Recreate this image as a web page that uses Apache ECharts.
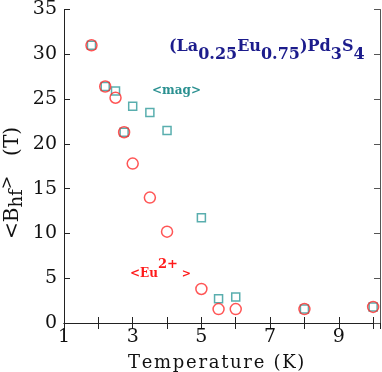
<!DOCTYPE html>
<html><head><meta charset="utf-8">
<script src="https://cdn.jsdelivr.net/npm/echarts@6/dist/echarts.min.js"></script>
<style>html,body{margin:0;padding:0;background:#fff}#c{width:382px;height:372px}</style>
</head><body><div id="c"></div>
<script>
const euTemp = [1.8, 2.2, 2.5, 2.75, 3.0, 3.5, 4.0, 5.0, 5.5, 6.0, 8.0, 10.0];
const euField = [31.0, 26.4, 25.15, 21.3, 17.8, 14.0, 10.2, 3.8, 1.55, 1.55, 1.55, 1.8];
const magTemp = [1.8, 2.2, 2.5, 2.75, 3.0, 3.5, 4.0, 5.0, 5.5, 6.0, 8.0, 10.0];
const magField = [31.0, 26.4, 25.9, 21.3, 24.2, 23.5, 21.5, 11.75, 2.7, 2.9, 1.55, 1.8];
const xTickLabels = ['1', '3', '5', '7', '9'];
const yTicks = [0, 5, 10, 15, 20, 25, 30, 35];
const xTitle = 'Temperature (K)';

const serif = 'DejaVu Serif';
const chart = echarts.init(document.getElementById('c'), null, {renderer: 'canvas'});
const axisLineStyle = {color: '#222', width: 1};
const grid = {left: 64, top: 8, right: 2, bottom: 49};
// letter-spaced title: one rich token per character
const spaced = s => s.split('').map(ch => '{c|' + ch + '}').join('');
chart.setOption({
  animation: false,
  grid: grid,
  xAxis: [
    {type: 'value', min: 1, max: 10.2, interval: 1, position: 'bottom',
     axisLine: {show: true, lineStyle: axisLineStyle},
     axisTick: {show: true, inside: true, length: 6, lineStyle: axisLineStyle},
     splitLine: {show: false},
     axisLabel: {fontFamily: serif, fontSize: 19, color: '#111', margin: 5,
       formatter: v => xTickLabels.indexOf(String(v)) >= 0 ? String(v) : '', showMaxLabel: false}},
    {type: 'value', min: 1, max: 10.2, interval: 1, position: 'top',
     axisLine: {show: true, lineStyle: axisLineStyle},
     axisTick: {show: true, inside: true, length: 6, lineStyle: axisLineStyle},
     splitLine: {show: false}, axisLabel: {show: false}}
  ],
  yAxis: [
    {type: 'value', min: 0, max: 35, interval: 5, position: 'left',
     axisLine: {show: true, lineStyle: axisLineStyle},
     axisTick: {show: true, inside: true, length: 6, lineStyle: axisLineStyle},
     splitLine: {show: false},
     axisLabel: {fontFamily: serif, fontSize: 19, color: '#111', margin: 7,
       formatter: v => yTicks.indexOf(v) >= 0 ? String(v) : ''}},
    {type: 'value', min: 0, max: 35, interval: 5, position: 'right',
     axisLine: {show: true, lineStyle: {color: '#555', width: 1}},
     axisTick: {show: true, inside: true, length: 6, lineStyle: {color: '#555', width: 1}},
     splitLine: {show: false}, axisLabel: {show: false}}
  ],
  series: [
    {type: 'scatter', name: 'mag', symbol: 'rect', symbolSize: 8,
     data: magTemp.map((t, i) => [t, magField[i]]),
     itemStyle: {color: 'rgba(0,0,0,0)', borderColor: '#2f9a9a', borderWidth: 1.5}},
    {type: 'scatter', name: 'Eu', symbol: 'circle', symbolSize: 11,
     data: euTemp.map((t, i) => [t, euField[i]]),
     itemStyle: {color: 'rgba(0,0,0,0)', borderColor: '#ff2a2a', borderWidth: 1.5}}
  ],
  graphic: [
    {type: 'text', x: 169, y: 31, z: 10,
     style: {
       text: '{m|(La}{s|0.25}{m|Eu}{s|0.75}{m|)Pd}{s|3}{m|S}{s|4}',
       fill: '#1c1c8c',
       rich: {
         m: {fontFamily: serif, fontSize: 16, fontWeight: 'bold', fill: '#1c1c8c', lineHeight: 32, verticalAlign: 'middle'},
         s: {fontFamily: serif, fontSize: 16, fontWeight: 'bold', fill: '#1c1c8c', lineHeight: 16, verticalAlign: 'bottom'}
       }
     }},
    {type: 'text', x: 152, y: 85, z: 10,
     style: {text: '<mag>', fill: '#2a9090', font: 'bold 12px ' + serif}},
    {type: 'text', x: 130, y: 258, z: 10,
     style: {
       text: '{m|<Eu}{p|2+}{g|>}',
       rich: {
         m: {fontFamily: serif, fontSize: 12, fontWeight: 'bold', fill: '#ff1a1a', lineHeight: 22, verticalAlign: 'bottom'},
         p: {fontFamily: serif, fontSize: 13, fontWeight: 'bold', fill: '#ff1a1a', lineHeight: 14, verticalAlign: 'top'},
         g: {fontFamily: serif, fontSize: 11, fontWeight: 'bold', fill: '#ff1a1a', lineHeight: 20, verticalAlign: 'bottom', padding: [0, 0, 0, 4]}
       }
     }},
    {type: 'text', x: 128, y: 354, z: 10,
     style: {text: spaced(xTitle),
       rich: {c: {fontFamily: serif, fontSize: 18, fill: '#111', padding: [0, 1.7, 0, 0]}}}},
    {type: 'text', x: 0, y: 239, rotation: Math.PI / 2, z: 10,
     style: {
       text: '{m|<B}{s|hf}{p|>}{t|(T)}',
       rich: {
         m: {fontFamily: serif, fontSize: 20, fill: '#111', lineHeight: 26, verticalAlign: 'middle'},
         s: {fontFamily: serif, fontSize: 18, fill: '#111', lineHeight: 17, verticalAlign: 'bottom'},
         p: {fontFamily: serif, fontSize: 16, fill: '#111', lineHeight: 15, verticalAlign: 'top'},
         t: {fontFamily: serif, fontSize: 20, fill: '#111', lineHeight: 26, verticalAlign: 'middle', padding: [0, 0, 0, 20]}
       }
     }}
  ]
});
</script></body></html>
